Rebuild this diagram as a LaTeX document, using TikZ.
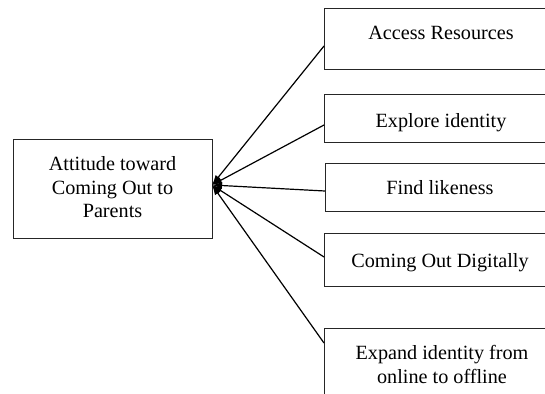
\documentclass[tikz,border=0pt]{standalone}
\usepackage{fontspec}
\setmainfont{Liberation Serif}
\usetikzlibrary{arrows.meta}
\begin{document}
\begin{tikzpicture}[x=1pt,y=-1pt,
  box/.style={draw=black!85, line width=1.3pt, inner sep=0pt, anchor=north west},
  lbl/.style={font=\fontsize{20.2}{24}\selectfont, anchor=base, inner sep=0pt, align=center},
  conn/.style={line width=1.2pt, -{Latex[length=10pt,width=7pt]}}]
\useasboundingbox (0,0) rectangle (545,393);
\begin{scope}
\clip (0,0) rectangle (545,393);
% left box
\node[box, minimum width=199pt, minimum height=99pt] (src) at (13,139) {};
\node[lbl] (srct) at (112.5,170) {Attitude toward};
\node[lbl] (srct2) at (112.5,194) {Coming Out to};
\node[lbl] (srct3) at (112.5,217) {Parents};
% right boxes
\node[box, minimum width=236pt, minimum height=61pt] (b1) at (324,8) {};
\node[box, minimum width=236pt, minimum height=48pt] (b2) at (324,94) {};
\node[box, minimum width=236pt, minimum height=48pt] (b3) at (325,163) {};
\node[box, minimum width=236pt, minimum height=53pt] (b4) at (324,233) {};
\node[box, minimum width=236pt, minimum height=90pt] (b5) at (324,328) {};
\node[lbl] (t1) at (441,40) {Access Resources};
\node[lbl] (t2) at (441,127) {Explore identity};
\node[lbl] (t3) at (440,194) {Find likeness};
\node[lbl] (t4) at (440,267) {Coming Out Digitally};
\node[lbl] (t5) at (442,359) {Expand identity from};
\node[lbl] (t6) at (442,383) {online to offline};
% connectors
\coordinate (tip) at (212,185);
\coordinate (s1) at (324,46);
\coordinate (s2) at (324,125);
\coordinate (s3) at (325,191);
\coordinate (s4) at (324,257);
\coordinate (s5) at (324,343);
\draw[conn] (s1) -- (tip);
\draw[conn] (s2) -- (tip);
\draw[conn] (s3) -- (tip);
\draw[conn] (s4) -- (tip);
\draw[conn] (s5) -- (tip);
\end{scope}
\end{tikzpicture}
\end{document}
